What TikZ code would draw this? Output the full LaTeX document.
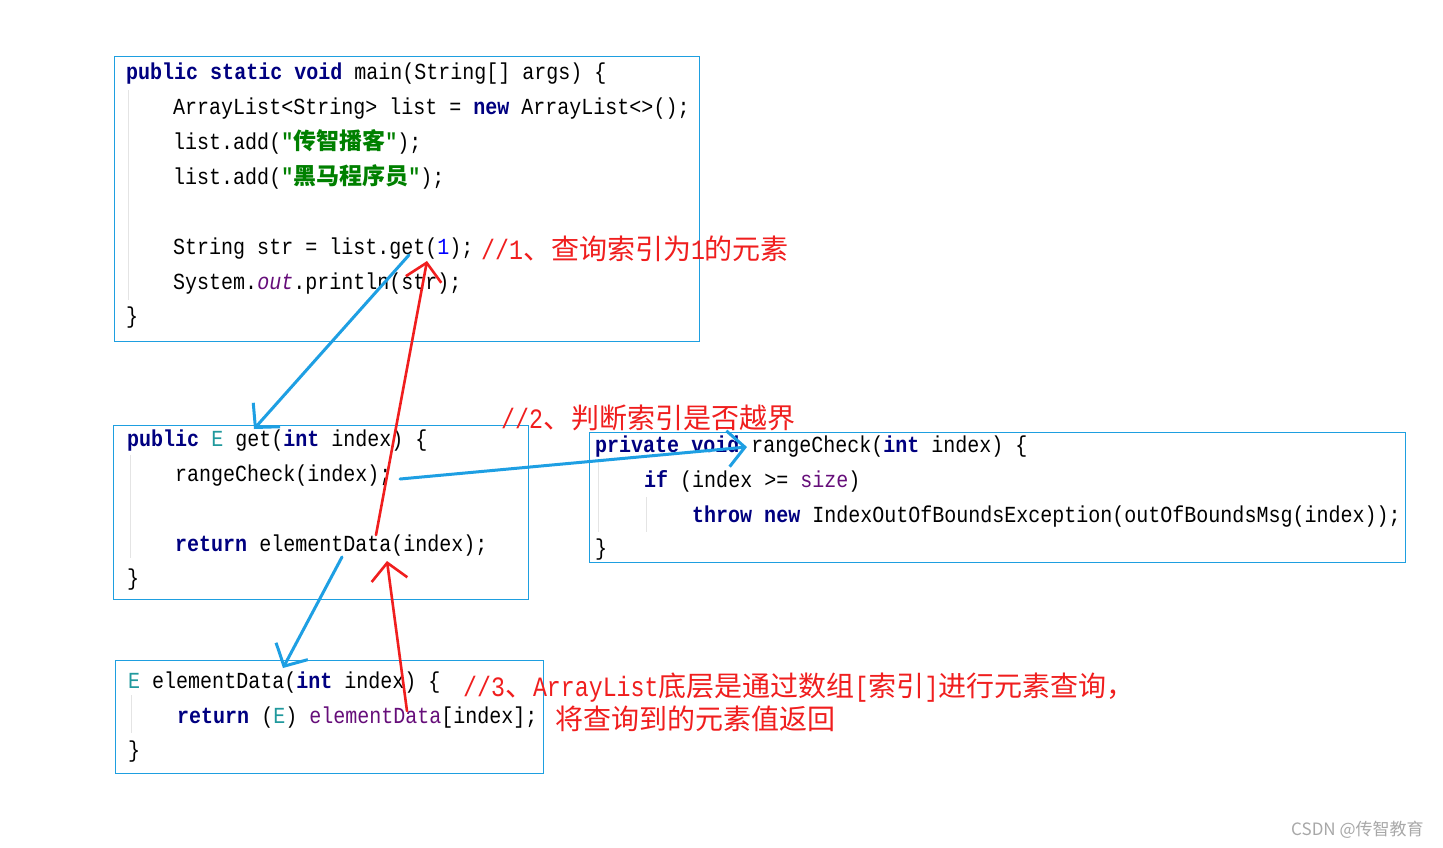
\documentclass[tikz,border=0pt]{standalone}
\usepackage{fontspec}
\usetikzlibrary{arrows.meta}
\newfontfamily\codefont[FakeStretch=0.87]{Liberation Mono}
\newfontfamily\cmlatfont[FakeStretch=0.83]{Liberation Mono}
\newfontfamily\cjkfont{Noto Sans CJK SC}
\definecolor{kwc}{HTML}{000080}
\definecolor{ec}{HTML}{20999D}
\definecolor{strc}{HTML}{008000}
\definecolor{numc}{HTML}{0000FF}
\definecolor{fc}{HTML}{660E7A}
\definecolor{boxc}{HTML}{1E9FE0}
\definecolor{arrblue}{HTML}{1E9FE3}
\definecolor{arrred}{HTML}{F01E1E}
\definecolor{guidec}{HTML}{E4E4E4}
\definecolor{wmc}{HTML}{A8A8A8}
\newcommand\kw[1]{\textcolor{kwc}{\bfseries #1}}
\newcommand\cjs[1]{\textcolor{strc}{\bfseries"{\cjkfont\bfseries #1}"}}
\begin{document}
\begin{tikzpicture}[x=1pt,y=-1pt,
  codebox/.style={draw=boxc, line width=1.2pt, anchor=north west, inner sep=0, fill=none},
  code/.style={anchor=base west, inner sep=0, font=\codefont\fontsize{23}{28}\selectfont},
  cmt/.style={anchor=base west, inner sep=0, text=arrred, font=\fontsize{28}{32}\selectfont},
  guide/.style={draw=guidec, line width=1pt},
  bluearr/.style={draw=arrblue, line width=3pt, line cap=round, -{Straight Barb[length=17pt,width=36pt]}},
  redarr/.style={draw=arrred, line width=2.6pt, line cap=round, -{Straight Barb[length=17pt,width=36pt]}}]
\useasboundingbox (0,0) rectangle (1443,847);
\fill[white] (0,0) rectangle (1443,847);

% boxes
\node[codebox, minimum width=585pt, minimum height=285pt] (b1) at (114,56) {};
\node[codebox, minimum width=415pt, minimum height=174pt] (b2) at (113,425) {};
\node[codebox, minimum width=816pt, minimum height=130pt] (b3) at (589,432) {};
\node[codebox, minimum width=428pt, minimum height=113pt] (b4) at (115,660) {};

% indent guides
\draw[guide] (128,90) -- (128,300);
\draw[guide] (130,455) -- (130,558);
\draw[guide] (598,462) -- (598,532);
\draw[guide] (646,497) -- (646,532);
\draw[guide] (131,695) -- (131,733);

% box 1
\node[code] (l11) at (126,79) {\kw{public static void} main(String[] args) \{};
\node[code] (l12) at (173,114) {ArrayList<String> list = \kw{new} ArrayList<>();};
\node[code] (l13) at (173,149) {list.add(\cjs{传智播客});};
\node[code] (l14) at (173,184) {list.add(\cjs{黑马程序员});};
\node[code] (l15) at (173,254) {String str = list.get(\textcolor{numc}{1});};
\node[code] (l16) at (173,289) {System.\textcolor{fc}{\itshape out}.println(str);};
\node[code] (l17) at (126,323) {\}};

% box 2
\node[code] (l21) at (127,446) {\kw{public} \textcolor{ec}{E} get(\kw{int} index) \{};
\node[code] (l22) at (175,481) {rangeCheck(index);};
\node[code] (l23) at (175,551) {\kw{return} elementData(index);};
\node[code] (l24) at (127,585) {\}};

% box 3
\node[code] (l31) at (595,452) {\kw{private void} rangeCheck(\kw{int} index) \{};
\node[code] (l32) at (644,487) {\kw{if} (index >= \textcolor{fc}{size})};
\node[code] (l33) at (692,522) {\kw{throw new} IndexOutOfBoundsException(outOfBoundsMsg(index));};
\node[code] (l34) at (595,555) {\}};

% box 4
\node[code] (l41) at (128,688) {\textcolor{ec}{E} elementData(\kw{int} index) \{};
\node[code] (l42) at (177,723) {\kw{return} (\textcolor{ec}{E}) \textcolor{fc}{elementData}[index];};
\node[code] (l43) at (128,757) {\}};

% comments
\node[cmt] (c1) at (481,259) {{\cmlatfont //1}{\cjkfont 、查询索引为}{\cmlatfont 1}{\cjkfont 的元素}};
\node[cmt] (c2) at (501,428) {{\cmlatfont //2}{\cjkfont 、判断索引是否越界}};
\node[cmt] (c3) at (463,696) {{\cmlatfont //3}{\cjkfont 、}{\cmlatfont ArrayList}{\cjkfont 底层是通过数组}{\cmlatfont [}{\cjkfont 索引}{\cmlatfont ]}{\cjkfont 进行元素查询，}};
\node[cmt] (c4) at (555,729) {\cjkfont 将查询到的元素值返回};

% watermark
\node[anchor=base west, inner sep=0, text=wmc, font=\cjkfont\fontsize{17}{20}\selectfont] (wm) at (1291,835) {CSDN @传智教育};

% arrow coordinates
\coordinate (a1s) at (409,255);
\coordinate (a1e) at (254,429);
\coordinate (a2s) at (400,479);
\coordinate (a2e) at (747,447);
\coordinate (a3s) at (342,557);
\coordinate (a3e) at (283,668);
\coordinate (r1s) at (376,535);
\coordinate (r1e) at (427,261);
\coordinate (r2s) at (407,711);
\coordinate (r2e) at (387,561);

\draw[bluearr] (a1s) -- (a1e);
\draw[bluearr] (a2s) -- (a2e);
\draw[bluearr] (a3s) -- (a3e);
\draw[redarr] (r1s) -- (r1e);
\draw[redarr] (r2s) -- (r2e);
\end{tikzpicture}
\end{document}
